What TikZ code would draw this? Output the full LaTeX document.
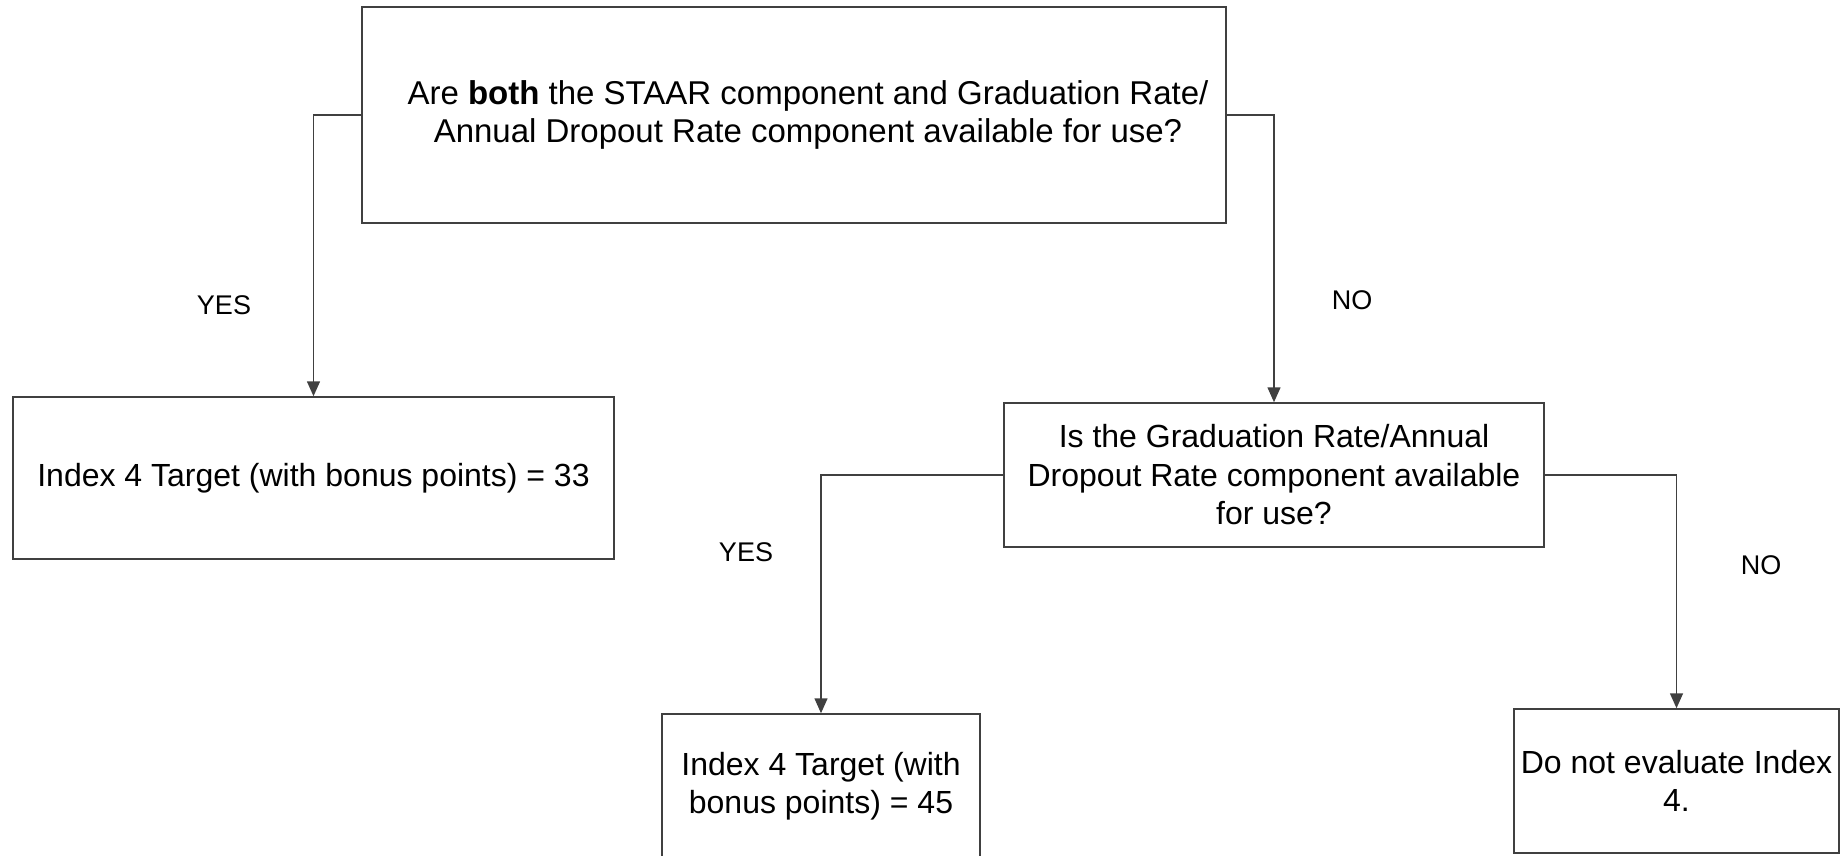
\documentclass[tikz,border=0pt]{standalone}
\usepackage{fontspec}
\setmainfont{Liberation Sans}
\usetikzlibrary{arrows.meta}
\definecolor{linegray}{HTML}{404040}
\tikzset{
  box/.style={draw=linegray, line width=1.5pt, rectangle, align=center, inner sep=0pt,
    font=\fontsize{32}{38.5}\selectfont},
  arr/.style={draw=linegray, line width=1.5pt, -{Triangle[length=15pt,width=13pt]}},
  lbl/.style={font=\fontsize{27}{30}\selectfont, inner sep=0pt}
}
\begin{document}
\begin{tikzpicture}[x=1pt,y=-1pt]
\useasboundingbox (0,0) rectangle (1847,856);
\node[box, minimum width=864pt, minimum height=216pt, font=\fontsize{33}{38}\selectfont] (top) at (794,115)
  {\hspace*{28pt}Are \textbf{both} the STAAR component and Graduation Rate/\\\hspace*{28pt}Annual Dropout Rate component available for use?};
\node[box, minimum width=601pt, minimum height=162pt] (left) at (313.5,478)
  {Index 4 Target (with bonus points) = 33};
\node[box, minimum width=540pt, minimum height=144pt] (mid) at (1274,475)
  {Is the Graduation Rate/Annual\\Dropout Rate component available\\for use?};
\node[box, minimum width=318pt, minimum height=144pt] (bl) at (821,786)
  {Index 4 Target (with\\bonus points) = 45};
\node[box, minimum width=325pt, minimum height=144pt] (br) at (1676.5,781)
  {Do not evaluate Index\\4.};
\draw[arr] (top.west) -| (left.north);
\draw[arr] (top.east) -| (mid.north);
\draw[arr] (mid.west) -| (bl.north);
\draw[arr] (mid.east) -| (br.north);
\node[lbl] (yes1) at (224,305) {YES};
\node[lbl] (no1) at (1352,300) {NO};
\node[lbl] (yes2) at (746,552) {YES};
\node[lbl] (no2) at (1761,565) {NO};
\end{tikzpicture}
\end{document}
